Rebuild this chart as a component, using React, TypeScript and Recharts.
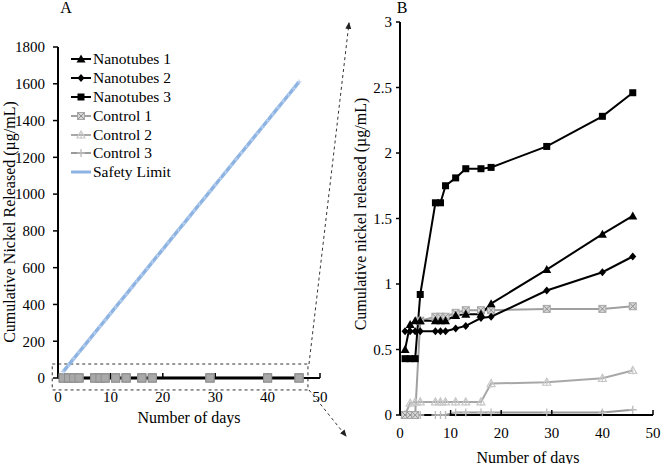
import React from "react";
import { LineChart, Line, XAxis, YAxis, Legend, ReferenceArea } from "recharts";

// sampling days (panel A and B)
const days = [1, 2, 3, 4, 7, 8, 9, 11, 13, 16, 18, 29, 40, 46];

// cumulative nickel released (µg/mL)
const nanotubes1 = [0.5, 0.69, 0.72, 0.72, 0.72, 0.72, 0.72, 0.76, 0.77, 0.77, 0.85, 1.11, 1.38, 1.52];
const nanotubes2 = [0.64, 0.64, 0.64, 0.64, 0.64, 0.64, 0.64, 0.66, 0.68, 0.74, 0.75, 0.95, 1.09, 1.21];
const nanotubes3 = [0.43, 0.43, 0.43, 0.92, 1.62, 1.62, 1.75, 1.81, 1.88, 1.88, 1.89, 2.05, 2.28, 2.46];
const control1 = [0, 0, 0, 0.72, 0.75, 0.75, 0.75, 0.78, 0.8, 0.8, 0.8, 0.81, 0.81, 0.83];
const control2 = [0, 0.09, 0.1, 0.1, 0.1, 0.1, 0.1, 0.1, 0.1, 0.1, 0.24, 0.25, 0.28, 0.34];
const control3 = [0, 0, 0, 0, 0, 0, 0, 0.02, 0.02, 0.02, 0.02, 0.02, 0.02, 0.04];

// safety limit, one point per day
const safetyDays = [
  1, 2, 3, 4, 5, 6, 7, 8, 9, 10, 11, 12, 13, 14, 15, 16, 17, 18, 19, 20, 21, 22, 23,
  24, 25, 26, 27, 28, 29, 30, 31, 32, 33, 34, 35, 36, 37, 38, 39, 40, 41, 42, 43, 44, 45, 46,
];
const safetyLimit = [
  35, 70, 105, 140, 175, 210, 245, 280, 315, 350, 385, 420, 455, 490, 525, 560, 595, 630,
  665, 700, 735, 770, 805, 840, 875, 910, 945, 980, 1015, 1050, 1085, 1120, 1155, 1190,
  1225, 1260, 1295, 1330, 1365, 1400, 1435, 1470, 1505, 1540, 1575, 1610,
];

const xTicks = [0, 10, 20, 30, 40, 50];
const yTicksA = [0, 200, 400, 600, 800, 1000, 1200, 1400, 1600, 1800];
const yTicksB = [0, 0.5, 1, 1.5, 2, 2.5, 3];

const FONT = '"Liberation Serif", "Times New Roman", serif';
const BLUE = "#8db3e2";

const rows = days.map((day, i) => ({
  day,
  n1: nanotubes1[i],
  n2: nanotubes2[i],
  n3: nanotubes3[i],
  c1: control1[i],
  c2: control2[i],
  c3: control3[i],
}));
const safetyRows = safetyDays.map((day, i) => ({ day, safety: safetyLimit[i] }));

const series = [
  { key: "n1", name: "Nanotubes 1", color: "#000", marker: "triangle" },
  { key: "n2", name: "Nanotubes 2", color: "#000", marker: "diamond" },
  { key: "n3", name: "Nanotubes 3", color: "#000", marker: "square" },
  { key: "c1", name: "Control 1", color: "#a0a0a0", marker: "xbox" },
  { key: "c2", name: "Control 2", color: "#a8a8a8", marker: "ltriangle" },
  { key: "c3", name: "Control 3", color: "#9a9a9a", marker: "plus" },
];

function Marker({ kind, cx, cy }: { kind: string; cx: number; cy: number }) {
  if (cx == null || cy == null) return null;
  switch (kind) {
    case "triangle":
      return <polygon points={`${cx},${cy - 4.5} ${cx - 4.5},${cy + 3.5} ${cx + 4.5},${cy + 3.5}`} fill="#000" />;
    case "diamond":
      return <polygon points={`${cx},${cy - 4} ${cx + 3.5},${cy} ${cx},${cy + 4} ${cx - 3.5},${cy}`} fill="#000" />;
    case "square":
      return <rect x={cx - 3.5} y={cy - 3.5} width={7} height={7} fill="#000" />;
    case "xbox":
      return (
        <g>
          <rect x={cx - 3.5} y={cy - 3.5} width={7} height={7} fill="#d6d6d6" stroke="#a6a6a6" />
          <path d={`M${cx - 3} ${cy - 3}L${cx + 3} ${cy + 3}M${cx + 3} ${cy - 3}L${cx - 3} ${cy + 3}`} stroke="#909090" />
        </g>
      );
    case "ltriangle":
      return (
        <g>
          <polygon points={`${cx},${cy - 4} ${cx - 4},${cy + 3} ${cx + 4},${cy + 3}`} fill="none" stroke="#c8c8c8" strokeWidth={1.2} />
          <path d={`M${cx} ${cy - 4}L${cx} ${cy + 4}`} stroke="#c8c8c8" strokeWidth={1} />
        </g>
      );
    case "plus":
      return <path d={`M${cx - 4} ${cy}L${cx + 4} ${cy}M${cx} ${cy - 4}L${cx} ${cy + 4}`} stroke="#bbbbbb" strokeWidth={1.3} />;
    case "graysquare":
      return <rect x={cx - 4} y={cy - 4} width={8} height={8} fill="#a9a9a9" stroke="#8f8f8f" />;
    case "blueplus":
      return <path d={`M${cx - 2.5} ${cy}L${cx + 2.5} ${cy}M${cx} ${cy - 2.5}L${cx} ${cy + 2.5}`} stroke="#b7cfee" strokeWidth={1} />;
    default:
      return null;
  }
}

const renderLegend = () => (
  <div style={{ fontFamily: FONT, fontSize: 15.5, color: "#000" }}>
    {[...series, { key: "safety", name: "Safety Limit", color: BLUE, marker: "none" }].map((s) => (
      <div key={s.key} style={{ display: "flex", alignItems: "center", height: 18.8, whiteSpace: "nowrap" }}>
        <svg width={22} height={12} style={{ marginRight: 1 }}>
          <line x1={1} y1={6} x2={21} y2={6} stroke={s.color} strokeWidth={s.key === "safety" ? 3 : 2} />
          <Marker kind={s.marker} cx={11} cy={6} />
        </svg>
        <span>{s.name}</span>
      </div>
    ))}
  </div>
);

const tickStyle = { fontFamily: FONT, fontSize: 15, fill: "#000" };
const titleStyle = { fontFamily: FONT, fontSize: 16, fill: "#000" };
const axisLine = { stroke: "#000", strokeWidth: 2 };
const tickLine = { stroke: "#000", strokeWidth: 1.5 };

export default function App() {
  return (
    <div style={{ position: "absolute", left: 0, top: 0, width: 664, height: 464, background: "#fff" }}>
      {/* Panel A */}
      <div style={{ position: "absolute", left: 0, top: 0 }}>
        <LineChart width={330} height={464} data={rows} margin={{ top: 47, right: 10, left: 0, bottom: 0 }}>
          <XAxis
            dataKey="day"
            type="number"
            domain={[0, 50]}
            ticks={xTicks}
            height={86}
            tick={tickStyle}
            tickSize={-5}
            tickMargin={18}
            axisLine={axisLine}
            tickLine={tickLine}
          />
          <YAxis
            type="number"
            domain={[0, 1800]}
            ticks={yTicksA}
            width={58}
            tick={tickStyle}
            tickSize={5}
            tickMargin={8}
            axisLine={axisLine}
            tickLine={tickLine}
          />
          <ReferenceArea
            x1={-1.1}
            x2={47.7}
            y1={-65}
            y2={76}
            ifOverflow="visible"
            fill="none"
            stroke="#333"
            strokeWidth={1}
            strokeDasharray="3 3"
          />
          {series.map((s) => (
            <Line
              key={s.key}
              dataKey={s.key}
              name={s.name}
              stroke={s.key.startsWith("n") ? "#000" : "#7f7f7f"}
              strokeWidth={3}
              isAnimationActive={false}
              dot={
                s.key.startsWith("c")
                  ? (p: any) => <Marker key={`a-${s.key}-${p.index}`} kind="graysquare" cx={p.cx} cy={p.cy} />
                  : false
              }
              activeDot={false}
            />
          ))}
          <Line
            data={safetyRows}
            dataKey="safety"
            name="Safety Limit"
            stroke={BLUE}
            strokeWidth={3.5}
            isAnimationActive={false}
            dot={(p: any) => <Marker key={`s-${p.index}`} kind="blueplus" cx={p.cx} cy={p.cy} />}
            activeDot={false}
          />
          <Legend
            layout="vertical"
            align="center"
            verticalAlign="middle"
            wrapperStyle={{ top: 50, left: 70, width: 120 }}
            content={renderLegend}
          />
        </LineChart>
      </div>

      {/* Panel B */}
      <div style={{ position: "absolute", left: 330, top: 0 }}>
        <LineChart width={334} height={464} data={rows} margin={{ top: 22, right: 11, left: 0, bottom: 0 }}>
          <XAxis
            dataKey="day"
            type="number"
            domain={[0, 50]}
            ticks={xTicks}
            height={49}
            tick={tickStyle}
            tickSize={-5}
            tickMargin={17}
            axisLine={axisLine}
            tickLine={tickLine}
          />
          <YAxis
            type="number"
            domain={[0, 3]}
            ticks={yTicksB}
            width={70}
            tick={tickStyle}
            tickSize={4}
            tickMargin={4}
            axisLine={axisLine}
            tickLine={tickLine}
          />
          {[...series].reverse().map((s) => (
            <Line
              key={s.key}
              dataKey={s.key}
              name={s.name}
              stroke={s.color}
              strokeWidth={2}
              isAnimationActive={false}
              dot={(p: any) => <Marker key={`b-${s.key}-${p.index}`} kind={s.marker} cx={p.cx} cy={p.cy} />}
              activeDot={false}
            />
          ))}
        </LineChart>
      </div>

      {/* panel letters, axis titles and zoom arrows */}
      <svg width={664} height={464} style={{ position: "absolute", left: 0, top: 0, pointerEvents: "none" }}>
        <defs>
          <marker id="arrow" markerWidth={8} markerHeight={8} refX={6} refY={4} orient="auto">
            <path d="M0,1 L7,4 L0,7 Z" fill="#222" />
          </marker>
        </defs>
        <text x={66} y={13} textAnchor="middle" style={titleStyle}>A</text>
        <text x={402} y={13} textAnchor="middle" style={titleStyle}>B</text>
        <text x={189} y={417} textAnchor="middle" dominantBaseline="central" style={titleStyle}>
          Number of days
        </text>
        <text x={528} y={457} textAnchor="middle" dominantBaseline="central" style={titleStyle}>
          Number of days
        </text>
        <text x={9} y={222} transform="rotate(-90 9 222)" textAnchor="middle" dominantBaseline="central" style={titleStyle}>
          Cumulative Nickel Released (µg/mL)
        </text>
        <text x={360} y={214} transform="rotate(-90 360 214)" textAnchor="middle" dominantBaseline="central" style={titleStyle}>
          Cumulative nickel released (µg/mL)
        </text>
        <line x1={309} y1={364} x2={349} y2={23} stroke="#333" strokeDasharray="3 3" markerEnd="url(#arrow)" />
        <line x1={309} y1={390} x2={346} y2={436} stroke="#333" strokeDasharray="3 3" markerEnd="url(#arrow)" />
      </svg>
    </div>
  );
}
